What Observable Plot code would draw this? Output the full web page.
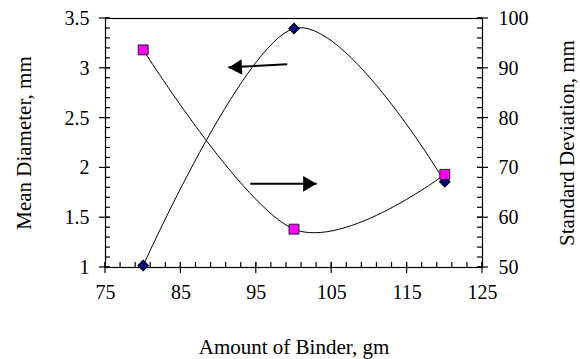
<!DOCTYPE html>
<html><head><meta charset="utf-8">
<script src="https://cdn.jsdelivr.net/npm/d3@7"></script>
<script src="https://cdn.jsdelivr.net/npm/@observablehq/plot@0.6"></script>
<style>html,body{margin:0;padding:0;background:#fff} svg{display:block}</style>
</head><body><div id="chart"></div>
<script>
// Data
const binder = [80, 100, 120];
const meanDiameter = [1.02, 3.40, 1.86];
const stdDeviation = [93.7, 57.7, 68.7];
const xTicks = [75, 85, 95, 105, 115, 125];
const leftTicks = [1, 1.5, 2, 2.5, 3, 3.5];
const rightTicks = [50, 60, 70, 80, 90, 100];
const xLabel = "Amount of Binder, gm";
const leftLabel = "Mean Diameter, mm";
const rightLabel = "Standard Deviation, mm";
// annotation arrows (data units): start -> tip
const arrowX1 = [99.1, 94.2];
const arrowY1 = [3.04, 1.84];
const arrowX2 = [91.3, 103.0];
const arrowY2 = [3.01, 1.84];

const W = 580, H = 359, ML = 105, MR = 98, MT = 18, MB = 92;
const FW = W - ML - MR, FH = H - MT - MB;
const xDom = [75, 125], yDom = [1, 3.5];
const pxX = FW / (xDom[1] - xDom[0]);   // pixels per x unit
const pxY = FH / (yDom[1] - yDom[0]);   // pixels per y unit
const sd2y = v => 1 + (v - 50) * 2.5 / 50;
const minorY = d3.range(26).map(i => +(1 + i * 0.1).toFixed(2));
const minorX = d3.range(26).map(i => 75 + i * 2);
const meanData = binder.map((x, i) => ({x, y: meanDiameter[i]}));
const sdData = binder.map((x, i) => ({x, y: sd2y(stdDeviation[i])}));
const arrows = arrowX1.map((_, i) => i);

// tick marks drawn as thin filled rectangles (1.2 px thick)
const hx = 0.6 / pxX, hy = 0.6 / pxY;
const xTickRect = (vals, down, up) => Plot.rect(vals, {
  x1: d => d - hx, x2: d => d + hx,
  y1: () => yDom[0] - down / pxY, y2: () => yDom[0] + up / pxY, fill: "#000"});
const yTickRect = (vals, xEdge, left, right) => Plot.rect(vals, {
  y1: d => d - hy, y2: d => d + hy,
  x1: () => xEdge - left / pxX, x2: () => xEdge + right / pxX, fill: "#000"});

const font = "'Liberation Serif', 'Times New Roman', serif";
const labelStyle = {fontSize: 20, fontFamily: font, fill: "#000", lineAnchor: "middle"};
const chart = Plot.plot({
  width: W, height: H,
  marginLeft: ML, marginRight: MR, marginTop: MT, marginBottom: MB,
  style: {fontFamily: font, fontSize: "20px", color: "#000", background: "#fff"},
  x: {domain: xDom, axis: null},
  y: {domain: yDom, axis: null},
  marks: [
    Plot.frame({stroke: "#000", strokeWidth: 1.2}),
    // x axis: major ticks cross, minor ticks inside
    xTickRect(xTicks, 6, 5),
    xTickRect(minorX, 0, 5),
    Plot.text(xTicks, {x: d => d, text: d => String(d), frameAnchor: "bottom", textAnchor: "middle", dy: 25, ...labelStyle}),
    // left axis
    yTickRect(leftTicks, xDom[0], 6, 5),
    yTickRect(minorY, xDom[0], 0, 5),
    Plot.text(leftTicks, {y: d => d, text: d => String(d), frameAnchor: "left", textAnchor: "end", dx: -16, ...labelStyle}),
    // right axis (standard deviation, mapped onto the same vertical extent)
    yTickRect(rightTicks.map(sd2y), xDom[1], 5, 6),
    yTickRect(minorY, xDom[1], 5, 0),
    Plot.text(rightTicks, {y: d => sd2y(d), text: d => String(d), frameAnchor: "right", textAnchor: "start", dx: 16, ...labelStyle}),
    // axis titles
    Plot.text([leftLabel], {text: d => d, frameAnchor: "left", textAnchor: "middle", dx: -81, rotate: -90, ...labelStyle, fontSize: 21}),
    Plot.text([rightLabel], {text: d => d, frameAnchor: "right", textAnchor: "middle", dx: 85, rotate: -90, ...labelStyle, fontSize: 21}),
    Plot.text([xLabel], {text: d => d, frameAnchor: "bottom", textAnchor: "middle", dy: 80, ...labelStyle, fontSize: 21}),
    // series
    Plot.line(meanData, {x: "x", y: "y", curve: "cardinal", stroke: "#000", strokeWidth: 1}),
    Plot.line(sdData, {x: "x", y: "y", curve: "cardinal", stroke: "#000", strokeWidth: 1}),
    Plot.dot(meanData, {x: "x", y: "y", symbol: "square", rotate: 45, r: 4.2, fill: "#000080", stroke: "#000", strokeWidth: 1}),
    Plot.dot(sdData, {x: "x", y: "y", symbol: "square", r: 5.6, fill: "#ff00ff", stroke: "#222", strokeWidth: 1}),
    // arrows
    Plot.link(arrows, {x1: i => arrowX1[i], y1: i => arrowY1[i], x2: i => arrowX2[i], y2: i => arrowY2[i], stroke: "#000", strokeWidth: 2}),
    Plot.dot([0], {x: i => arrowX2[i], y: i => arrowY2[i], symbol: "triangle", rotate: -93, r: 5.8, fill: "#000", stroke: "none", dx: 9}),
    Plot.dot([1], {x: i => arrowX2[i], y: i => arrowY2[i], symbol: "triangle", rotate: 90, r: 5.8, fill: "#000", stroke: "none", dx: -9})
  ]
});
document.getElementById("chart").appendChild(chart);
</script>
</body></html>
